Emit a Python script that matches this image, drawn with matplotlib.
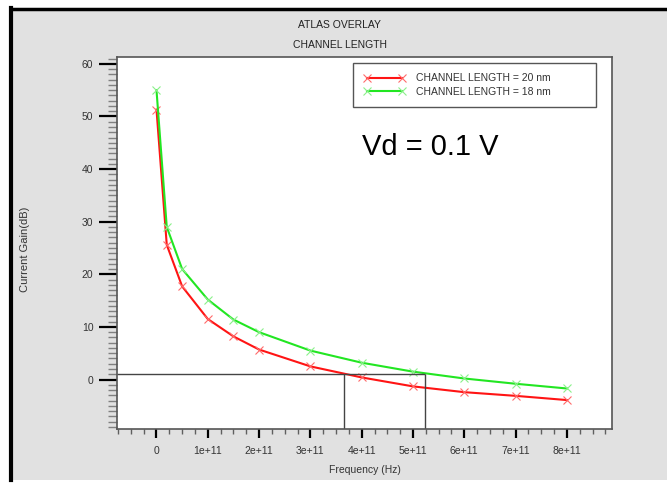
import matplotlib
matplotlib.use('Agg')
import matplotlib.pyplot as plt
from matplotlib.patches import Rectangle
from matplotlib.lines import Line2D
from matplotlib.ticker import MultipleLocator, FuncFormatter

plt.rcParams['font.family'] = ['Liberation Sans', 'DejaVu Sans']

# data
freq = [0, 0.2e11, 0.5e11, 1e11, 1.5e11, 2e11, 3e11, 4e11, 5e11, 6e11, 7e11, 8e11]
gain_20nm = [51.3, 25.6, 17.7, 11.5, 8.2, 5.7, 2.5, 0.4, -1.3, -2.4, -3.1, -3.9]
gain_18nm = [55.0, 29.0, 21.0, 15.2, 11.4, 9.0, 5.5, 3.2, 1.5, 0.2, -0.8, -1.7]
labels = ['CHANNEL LENGTH = 20 nm', 'CHANNEL LENGTH = 18 nm']
ref_level = 1.0          # dB level of the horizontal guide
ft_values = [3.65e11, 5.23e11]   # crossing frequencies

fig = plt.figure(figsize=(6.67, 4.84), dpi=100)
fig.patch.set_facecolor('white')
# grey panel with black frame on left/top, like the screenshot
fig.add_artist(Rectangle((9/667, 4/484), 1 - 9/667, 1 - 4/484 - 8/484,
                         transform=fig.transFigure, facecolor='#e1e1e1',
                         edgecolor='none', zorder=-10))
fig.add_artist(Line2D([11/667, 11/667], [4/484, 1 - 8/484], transform=fig.transFigure,
                      color='black', lw=3))
fig.add_artist(Line2D([11/667, 1], [1 - 8.5/484, 1 - 8.5/484], transform=fig.transFigure,
                      color='black', lw=2.5))

ax = fig.add_axes([117/667, 1 - 429/484, 495/667, 372/484])
ax.set_facecolor('white')

ax.plot(freq, gain_20nm, color='#ff1414', lw=1.5, marker='x', ms=6, mew=0.8,
        mec='#ff6a6a', label=labels[0])
ax.plot(freq, gain_18nm, color='#22e622', lw=1.5, marker='x', ms=6, mew=0.8,
        mec='#8af08a', label=labels[1])

ax.set_xlim(-0.77e11, 8.88e11)
ax.set_ylim(-9.4, 61.3)

# guide lines
ax.hlines(ref_level, -0.77e11, max(ft_values), color='#444444', lw=1)
ax.vlines(ft_values, -9.4, ref_level, color='#444444', lw=1)

ax.xaxis.set_major_locator(MultipleLocator(1e11))
ax.xaxis.set_minor_locator(MultipleLocator(0.25e11))
ax.yaxis.set_major_locator(MultipleLocator(10))
ax.yaxis.set_minor_locator(MultipleLocator(1))

def fmt_x(v, pos):
    if abs(v) < 1:
        return '0'
    return '%de+11' % round(v / 1e11)

ax.xaxis.set_major_formatter(FuncFormatter(fmt_x))
ax.set_xticks([i * 1e11 for i in range(9)])

ax.tick_params(axis='y', which='major', direction='out', length=13, width=1.6,
               color='black', labelsize=7.5, labelcolor='#333333', pad=4)
ax.tick_params(axis='y', which='minor', direction='out', length=6.5, width=1,
               color='#808080')
ax.tick_params(axis='x', which='major', direction='out', length=6.5, width=1.6,
               color='black', labelsize=7.5, labelcolor='#333333', pad=6)
ax.tick_params(axis='x', which='minor', direction='out', length=3.5, width=1,
               color='#606060')

for s in ax.spines.values():
    s.set_color('#555555')
    s.set_linewidth(1.2)

ax.set_xlabel('Frequency (Hz)', fontsize=7.5, color='#333333', labelpad=6)
fig.text(25/667, 1 - 249/484, 'Current Gain(dB)', rotation=90, fontsize=8,
         color='#333333', ha='center', va='center')

fig.text(340/667, 1 - 25/484, 'ATLAS OVERLAY', fontsize=7.5, color='#222222',
         ha='center', va='center')
fig.text(340/667, 1 - 45/484, 'CHANNEL LENGTH', fontsize=7.5, color='#222222',
         ha='center', va='center')

leg = ax.legend(loc='upper left', bbox_to_anchor=(0.477, 0.984, 0.491, 0.0),
                mode='expand', fontsize=7.5, numpoints=2, handlelength=4,
                handletextpad=1.0, borderpad=1.0, labelspacing=0.35,
                fancybox=False, framealpha=1, borderaxespad=0)
leg.get_frame().set_edgecolor('#555555')
leg.get_frame().set_linewidth(1)
for t in leg.get_texts():
    t.set_color('#333333')

ax.text(0.495, 0.758, 'Vd = 0.1 V', transform=ax.transAxes, fontsize=21,
        ha='left', va='center', color='black')

fig.savefig('out.png', dpi=100, facecolor=fig.get_facecolor())
